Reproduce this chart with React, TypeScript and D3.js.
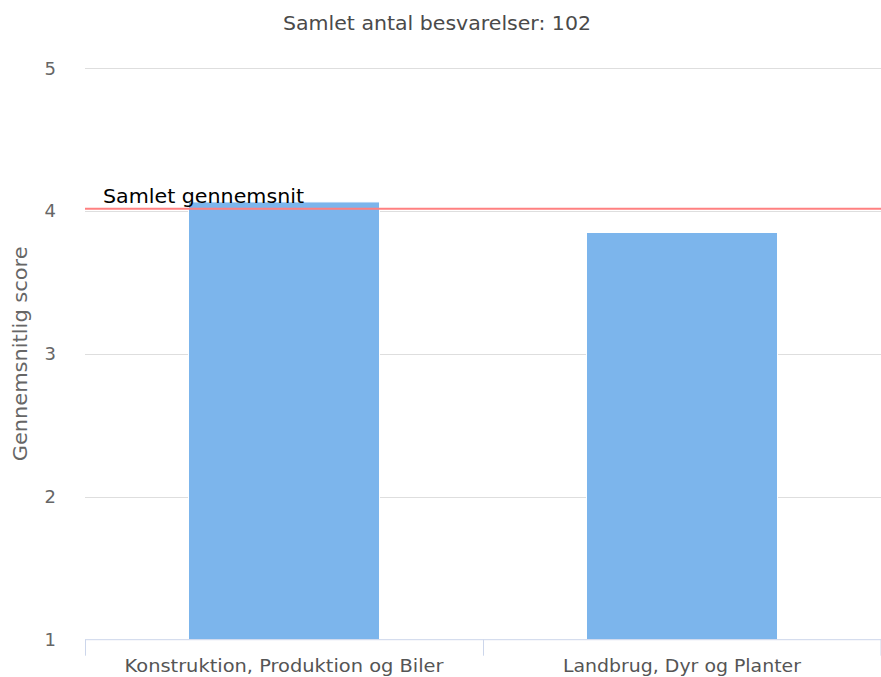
import React from "react";
import * as d3 from "d3";

const categories = ["Konstruktion, Produktion og Biler", "Landbrug, Dyr og Planter"];
const scores = [4.063, 3.849];
const yTicks = [1, 2, 3, 4, 5];
const averageValue = 4.015;
const averageLabel = "Samlet gennemsnit";
const title = "Samlet antal besvarelser: 102";
const yTitle = "Gennemsnitlig score";

const W = 881;
const H = 677;
const M = { left: 85, right: 0, top: 68, bottom: 37.3 };
const catLabelWidths = [319, 238];

export default function App() {
  const x = d3.scaleBand<string>().domain(categories).range([M.left, W - M.right]).paddingInner(0.52).paddingOuter(0.26);
  const band = d3.scaleBand<string>().domain(categories).range([M.left, W - M.right]);
  const y = d3.scaleLinear().domain([1, 5]).range([H - M.bottom, M.top]);
  const font = "'DejaVu Sans', sans-serif";
  const yAvg = y(averageValue);
  return (
    <svg width={W} height={H} style={{ position: "absolute", left: 0, top: 0, background: "#fff" }}>
      <text x={437} y={30} textAnchor="middle" fontSize={19.5} fill="#4a4a4a" fontFamily={font} textLength={308} lengthAdjust="spacingAndGlyphs">{title}</text>
      {yTicks.map((t) => (
        <g key={t}>
          {t > 1 && <line x1={M.left} x2={W - M.right} y1={Math.round(y(t)) + 0.5} y2={Math.round(y(t)) + 0.5} stroke="#dedede" strokeWidth={1} />}
          <text x={56} y={y(t) + 6.5} textAnchor="end" fontSize={18} fill="#666" fontFamily={font}>{t}</text>
        </g>
      ))}
      <text transform={`translate(27,${(y(1) + y(5)) / 2}) rotate(-90)`} textAnchor="middle" fontSize={19.5} fill="#666" fontFamily={font} textLength={215} lengthAdjust="spacingAndGlyphs">{yTitle}</text>
      {categories.map((c, i) => (
        <rect key={c} x={x(c)!} width={x.bandwidth()} y={y(scores[i])} height={y(1) - y(scores[i])} fill="#7cb5ec" stroke="#fff" strokeWidth={1} />
      ))}
      <line x1={M.left} x2={W - M.right} y1={y(1)} y2={y(1)} stroke="#ccd6eb" strokeWidth={1} />
      {[...categories.map((c) => band(c)!), W - M.right - 0.5].map((t, i) => (
        <line key={i} x1={t + 0.5} x2={t + 0.5} y1={y(1)} y2={y(1) + 16} stroke="#ccd6eb" strokeWidth={1} />
      ))}
      {categories.map((c, i) => (
        <text key={c} x={band(c)! + band.bandwidth() / 2} y={672} textAnchor="middle" fontSize={18} fill="#555" fontFamily={font} textLength={catLabelWidths[i]} lengthAdjust="spacingAndGlyphs">{c}</text>
      ))}
      <line x1={M.left} x2={W - M.right} y1={yAvg} y2={yAvg} stroke="#ff8080" strokeWidth={2} />
      <text x={103} y={203} fontSize={19.5} fill="#000" fontFamily={font} textLength={201} lengthAdjust="spacingAndGlyphs">{averageLabel}</text>
    </svg>
  );
}
